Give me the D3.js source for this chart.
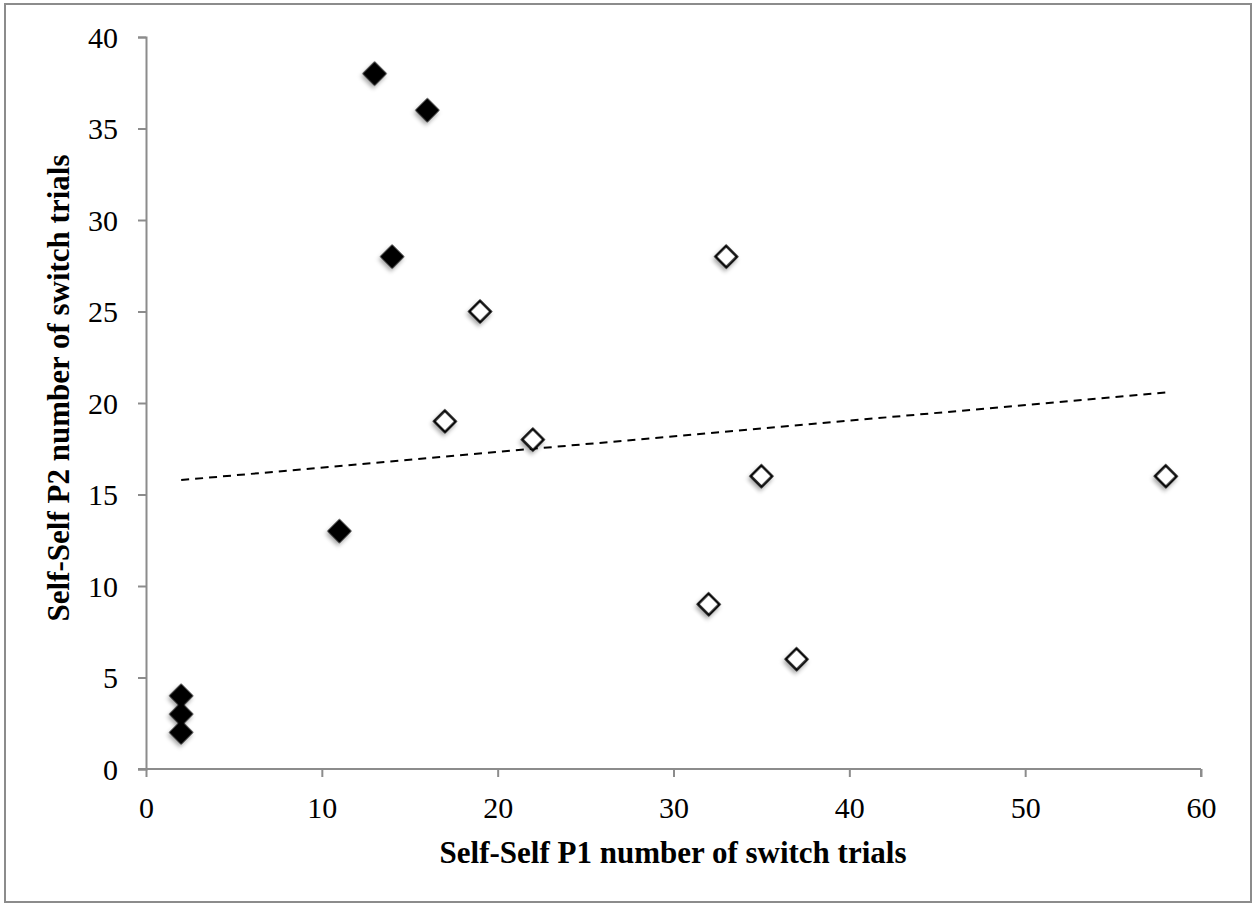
<!DOCTYPE html>
<html>
<head>
<meta charset="utf-8">
<script src="https://cdn.jsdelivr.net/npm/d3@7"></script>
<style>
  body { margin: 0; background: #fff; }
  text { font-family: "Liberation Serif", "Times New Roman", serif; fill: #000; }
</style>
</head>
<body>
<div id="chart"></div>
<script>
// data
var filledX = [2, 2, 2, 11, 13, 14, 16];
var filledY = [2, 3, 4, 13, 38, 28, 36];
var openX = [17, 19, 22, 32, 33, 35, 37, 58];
var openY = [19, 25, 18, 9, 28, 16, 6, 16];
var xTicks = [0, 10, 20, 30, 40, 50, 60];
var yTicks = [0, 5, 10, 15, 20, 25, 30, 35, 40];
var xTitle = "Self-Self P1 number of switch trials";
var yTitle = "Self-Self P2 number of switch trials";

var W = 1259, H = 907;
var svg = d3.select("#chart").append("svg")
    .attr("width", W)
    .attr("height", H);

var defs = svg.append("defs");
var f = defs.append("filter").attr("id", "shadow")
    .attr("x", "-50%").attr("y", "-50%").attr("width", "200%").attr("height", "200%");
f.append("feDropShadow")
    .attr("dx", 1).attr("dy", 3).attr("stdDeviation", 2)
    .attr("flood-color", "#000").attr("flood-opacity", 0.35);

// outer frame
svg.append("rect")
    .attr("x", 5).attr("y", 4)
    .attr("width", 1246).attr("height", 898)
    .attr("fill", "#fff")
    .attr("stroke", "#8c8c8c")
    .attr("stroke-width", 2);

var x = d3.scaleLinear().domain([0, 60]).range([146, 1201]);
var y = d3.scaleLinear().domain([0, 40]).range([769, 37]);

var gx = svg.append("g")
    .attr("transform", "translate(0," + y(0) + ")")
    .call(d3.axisBottom(x).tickValues(xTicks).tickSize(8));
var gy = svg.append("g")
    .attr("transform", "translate(" + x(0) + ",0)")
    .call(d3.axisLeft(y).tickValues(yTicks).tickSize(8));

[gx, gy].forEach(function(g) {
  g.select(".domain").attr("stroke", "#8c8c8c").attr("stroke-width", 2);
  g.selectAll(".tick line").attr("stroke", "#8c8c8c").attr("stroke-width", 2);
  g.selectAll(".tick text")
    .style("font-family", '"Liberation Serif", serif')
    .style("font-size", "30px")
    .attr("fill", "#000");
});
gx.selectAll(".tick text").attr("y", 49).attr("dy", 0);
gy.selectAll(".tick text").attr("x", -28).attr("dy", "0.34em");
gx.select(".domain").attr("d", "M" + (x(0) - 8) + ",0H" + x(60) + "M" + x(60) + ",0V8");

// trend line (least squares through all points)
var allX = filledX.concat(openX), allY = filledY.concat(openY);
var mx = d3.mean(allX), my = d3.mean(allY);
var num = d3.sum(allX, function(v, i) { return (v - mx) * (allY[i] - my); });
var den = d3.sum(allX, function(v) { return (v - mx) * (v - mx); });
var slope = num / den, icpt = my - slope * mx;
var x0 = d3.min(allX), x1 = d3.max(allX);
svg.append("line")
    .attr("x1", x(x0)).attr("y1", y(icpt + slope * x0))
    .attr("x2", x(x1)).attr("y2", y(icpt + slope * x1))
    .attr("stroke", "#000")
    .attr("stroke-width", 2)
    .attr("stroke-dasharray", "8,6");

svg.selectAll("path.filled")
    .data(filledX.map(function(v, i) { return [v, filledY[i]]; }))
  .enter().append("path")
    .attr("class", "filled")
    .attr("d", d3.symbol().type(d3.symbolSquare).size(300))
    .attr("transform", function(d) { return "translate(" + x(d[0]) + "," + y(d[1]) + ") rotate(45)"; })
    .attr("fill", "#000")
    .attr("filter", "url(#shadow)");

svg.selectAll("path.open")
    .data(openX.map(function(v, i) { return [v, openY[i]]; }))
  .enter().append("path")
    .attr("class", "open")
    .attr("d", d3.symbol().type(d3.symbolSquare).size(230))
    .attr("transform", function(d) { return "translate(" + x(d[0]) + "," + y(d[1]) + ") rotate(45)"; })
    .attr("fill", "#fff")
    .attr("stroke", "#000")
    .attr("stroke-width", 2.5)
    .attr("filter", "url(#shadow)");

svg.append("text")
    .attr("x", 673).attr("y", 863)
    .attr("text-anchor", "middle")
    .style("font-weight", "bold")
    .style("font-size", "31px")
    .text(xTitle);

svg.append("text")
    .attr("transform", "translate(69,388) rotate(-90)")
    .attr("text-anchor", "middle")
    .style("font-weight", "bold")
    .style("font-size", "31px")
    .text(yTitle);
</script>
</body>
</html>
